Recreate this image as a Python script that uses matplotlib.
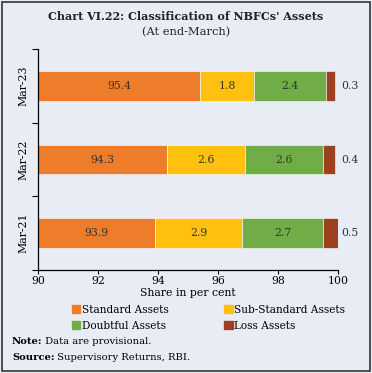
import matplotlib.pyplot as plt
import matplotlib.patches as mpatches
import numpy as np

years = ['Mar-21', 'Mar-22', 'Mar-23']
standard = [93.9, 94.3, 95.4]
sub_standard = [2.9, 2.6, 1.8]
doubtful = [2.7, 2.6, 2.4]
loss = [0.5, 0.4, 0.3]

series = ['Standard Assets', 'Sub-Standard Assets', 'Doubtful Assets', 'Loss Assets']
colors = ['#EE7D2B', '#FFC010', '#70AD47', '#9E3F20']
bg = '#E8EDF5'

plt.rcParams['font.family'] = ['DejaVu Serif']
plt.rcParams['font.size'] = 7.5

fig = plt.figure(figsize=(3.72, 3.73), dpi=100, facecolor=bg)
ax = fig.add_axes([38 / 372, 103 / 373, 300 / 372, 221 / 373])
ax.set_facecolor(bg)

y = np.arange(len(years))
left = np.zeros(len(years))
for vals, name, c in zip([standard, sub_standard, doubtful, loss], series, colors):
    ax.barh(y, vals, left=left, height=0.4, color=c, edgecolor='white',
            linewidth=0.4, label=name)
    left = left + np.array(vals)

# labels inside the first three segments, loss label just past the axis end
starts = np.zeros(len(years))
for i, vals in enumerate([standard, sub_standard, doubtful, loss]):
    for j, v in enumerate(vals):
        if i == 0:
            xc = (90 + starts[j] + v) / 2
        else:
            xc = starts[j] + v / 2
        if i < 3:
            ax.text(xc, y[j], f'{v:.1f}', ha='center', va='center', color='#333333', fontsize=7.8)
        else:
            ax.text(100.1, y[j], f'{v:.1f}', ha='left', va='center',
                    color='#333333', fontsize=7.8, clip_on=False)
    starts = starts + np.array(vals)

ax.set_xlim(90, 100)
ax.set_ylim(-0.5, 2.5)
ax.set_xticks([90, 92, 94, 96, 98, 100])
ax.set_yticks(y)
ax.set_yticklabels(years, rotation=90, va='center')
ax.set_yticks([-0.5, 0.5, 1.5, 2.5], minor=True)
ax.tick_params(axis='y', which='major', length=0, pad=7, labelsize=7.8)
ax.tick_params(axis='y', which='minor', length=4, width=0.8, direction='out')
ax.tick_params(axis='x', length=3, width=0.8, direction='out', pad=1.5, labelsize=7.8)
ax.set_xlabel('Share in per cent', labelpad=1, fontsize=7.8)
for s in ['top', 'right']:
    ax.spines[s].set_visible(False)
for s in ['left', 'bottom']:
    ax.spines[s].set_linewidth(0.9)

fig.text(0.5, 1 - 16 / 373, "Chart VI.22: Classification of NBFCs' Assets",
         ha='center', va='center', fontsize=8, fontweight='bold', color='#222222')
fig.text(0.5, 1 - 32 / 373, '(At end-March)', ha='center', va='center',
         fontsize=8.2, color='#222222')

handles = [mpatches.Patch(color=c) for c in colors]
order = [0, 2, 1, 3]
fig.legend([handles[i] for i in order], [series[i] for i in order], ncol=2,
           loc='center left', bbox_to_anchor=(62 / 372, 1 - 318 / 373),
           frameon=False, handlelength=0.8, handleheight=0.8, handletextpad=0.15,
           columnspacing=5.3, labelspacing=0.55, fontsize=7.6)

note = fig.text(12 / 372, 1 - 342 / 373, 'Note:', fontweight='bold', va='center', fontsize=7.2)
ax.annotate(' Data are provisional.', xy=(1, 0.5), xycoords=note, va='center',
            fontsize=7.2)
src = fig.text(12 / 372, 1 - 357 / 373, 'Source:', fontweight='bold', va='center', fontsize=7.2)
ax.annotate(' Supervisory Returns, RBI.', xy=(1, 0.5), xycoords=src, va='center',
            fontsize=7.2)

fig.patches.append(mpatches.Rectangle((2 / 372, 2 / 373), 368 / 372, 369 / 373,
                                      transform=fig.transFigure, fill=False,
                                      edgecolor='#333333', linewidth=1.2))

plt.savefig('out.png', dpi=100, facecolor=bg)
plt.close()
